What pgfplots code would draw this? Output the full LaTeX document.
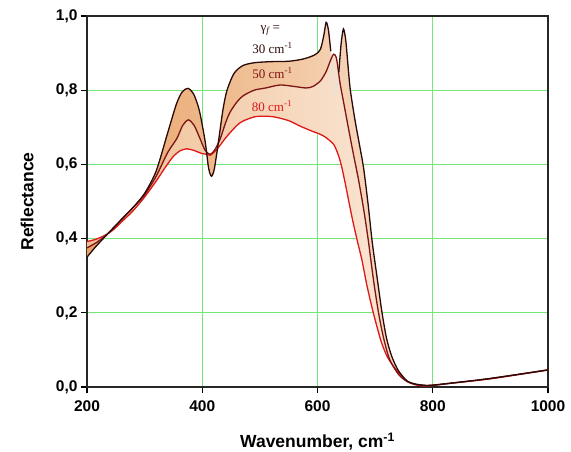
\documentclass[border=0pt]{standalone}
\usepackage{fontspec}
\setmainfont{Liberation Sans}
\newfontfamily\serif{Liberation Serif}
\usepackage{pgfplots}
\pgfplotsset{compat=1.18}
\usepgfplotslibrary{fillbetween}
\definecolor{gridg}{HTML}{74E874}
\definecolor{c30}{HTML}{2B0A08}
\definecolor{c50}{HTML}{7E1414}
\definecolor{c80}{HTML}{E01818}
\definecolor{fA1}{HTML}{E8A164}
\definecolor{fA2}{HTML}{F4D4BC}
\definecolor{fA3}{HTML}{FFF8F2}
\definecolor{fB1}{HTML}{EFBE92}
\definecolor{fB2}{HTML}{F8E4D6}
\definecolor{fB3}{HTML}{FFFAF6}
\pgfplotstableread{
x y
200 0.350
215 0.378
230 0.403
245 0.428
260 0.452
280 0.484
300 0.522
320 0.582
340 0.685
355 0.762
365 0.795
375 0.805
385 0.790
395 0.745
405 0.662
411 0.590
416 0.568
421 0.588
428 0.660
436 0.748
443 0.800
455 0.845
470 0.866
490 0.874
520 0.877
550 0.878
575 0.884
595 0.895
605 0.910
611 0.948
615 0.983
619 0.962
623 0.905
627 0.820
631 0.790
636 0.825
641 0.925
645 0.965
649 0.935
653 0.865
657 0.800
665 0.720
672 0.660
680 0.590
688 0.490
695 0.390
703 0.300
712 0.200
720 0.130
729 0.082
740 0.045
755 0.017
770 0.008
790 0.004
800 0.005
830 0.010
900 0.023
1000 0.046
}\tA
\pgfplotstableread{
x y
200 0.350
215 0.378
230 0.403
245 0.428
260 0.452
280 0.484
300 0.522
320 0.582
340 0.685
355 0.762
365 0.795
375 0.805
385 0.790
395 0.745
405 0.662
411 0.590
416 0.568
421 0.588
428 0.660
436 0.748
443 0.800
455 0.845
470 0.866
490 0.874
520 0.877
550 0.878
575 0.884
595 0.895
605 0.910
611 0.948
615 0.983
619 0.962
623 0.905
}\tAa
\pgfplotstableread{
x y
623 0.905
627 0.820
631 0.790
636 0.825
641 0.925
}\tAb
\pgfplotstableread{
x y
637 0.848
641 0.925
645 0.965
649 0.935
653 0.865
657 0.800
665 0.720
672 0.660
680 0.590
688 0.490
695 0.390
703 0.300
712 0.200
720 0.130
729 0.082
740 0.045
755 0.017
770 0.008
790 0.004
800 0.005
830 0.010
900 0.023
1000 0.046
}\tAc
\pgfplotstableread{
x y
200 0.375
215 0.388
230 0.405
245 0.426
260 0.452
280 0.484
300 0.518
320 0.568
340 0.632
356 0.670
366 0.705
376 0.720
386 0.705
396 0.670
405 0.638
414 0.627
422 0.640
431 0.668
440 0.710
448 0.740
460 0.768
471 0.785
490 0.800
510 0.806
535 0.814
560 0.810
580 0.806
592 0.810
605 0.825
615 0.850
622 0.878
628 0.897
633 0.885
639 0.820
645 0.770
654 0.695
662 0.630
671 0.560
680 0.480
688 0.397
697 0.290
706 0.199
715 0.130
725 0.075
740 0.035
755 0.015
770 0.007
790 0.004
800 0.005
830 0.010
900 0.023
1000 0.046
}\tB
\pgfplotstableread{
x y
200 0.392
215 0.398
230 0.408
245 0.423
260 0.445
280 0.475
300 0.512
320 0.555
335 0.590
350 0.622
362 0.637
373 0.642
385 0.638
398 0.630
408 0.627
414 0.625
425 0.640
443 0.676
460 0.705
471 0.717
490 0.728
506 0.730
525 0.728
550 0.718
570 0.703
590 0.690
605 0.681
615 0.672
628 0.654
635 0.630
641 0.600
648 0.550
655 0.495
662 0.442
670 0.388
677 0.343
686 0.272
697 0.199
710 0.125
720 0.085
729 0.062
740 0.040
755 0.016
770 0.006
785 0.003
800 0.004
830 0.010
900 0.022
1000 0.046
}\tC
\begin{document}
\begin{tikzpicture}
\begin{axis}[name=ax, width=461pt, height=371pt, scale only axis,
  xmin=200, xmax=1000, ymin=0, ymax=1,
  xtick={200,400,600,800,1000}, ytick={0,0.2,0.4,0.6,0.8,1},
  grid=major, major grid style={draw=gridg, line width=0.9pt},
  tick pos=left, tick align=outside, major tick length=6pt,
  tick style={black, line width=1.2pt},
  axis line style={line width=1.3pt, draw=black!85},
  ticklabel style={font=\bfseries\fontsize{15.5}{15.5}\selectfont},
  yticklabel style={/pgf/number format/.cd, fixed, fixed zerofill, precision=1, use comma, assume math mode=true},
  xticklabel style={/pgf/number format/.cd, fixed, precision=0, 1000 sep={}, assume math mode=true},
  xticklabel shift=4pt,
  xlabel={Wavenumber, cm\textsuperscript{-1}},
  ylabel={Reflectance},
  label style={font=\bfseries\fontsize{17.5}{18}\selectfont},
  xlabel style={at={(axis description cs:0.5,0)}, anchor=center, yshift=-55pt},
  ylabel style={at={(axis description cs:0,0.5)}, anchor=center, yshift=60pt},
]
\addplot[draw=none, name path=A, smooth, tension=0.45, forget plot] table {\tA};
\addplot[draw=none, name path=B, smooth, tension=0.45, forget plot] table {\tB};
\addplot[draw=none, name path=C, smooth, tension=0.45, forget plot] table {\tC};
\addplot[left color=fA1, middle color=fA2, right color=fA3, draw=none] fill between[of=A and B];
\addplot[left color=fB1, middle color=fB2, right color=fB3, draw=none] fill between[of=B and C];
\addplot[c30!12, line width=1.1pt, smooth, tension=0.45] table {\tAb};
\addplot[c80, line width=1.3pt, smooth, tension=0.45] table {\tC};
\addplot[c50, line width=1.3pt, smooth, tension=0.45] table {\tB};
\addplot[c30, line width=1.3pt, smooth, tension=0.45] table {\tAa};
\addplot[c30, line width=1.3pt, smooth, tension=0.45] table {\tAc};
\node[font=\serif\fontsize{13}{13}\selectfont, text=c30] at (axis cs:518,0.960) {γ\textsubscript{\itshape f} =};
\node[font=\serif\fontsize{13}{13}\selectfont, text=c30] at (axis cs:522,0.914) {30 cm\textsuperscript{-1}};
\node[font=\serif\fontsize{13}{13}\selectfont, text=c50] at (axis cs:522,0.846) {50 cm\textsuperscript{-1}};
\node[font=\serif\fontsize{13}{13}\selectfont, text=c80] at (axis cs:521,0.757) {80 cm\textsuperscript{-1}};
\end{axis}
\pgfresetboundingbox
\path (ax.south west) ++(-87pt,-64pt) rectangle ++(571pt,451pt);
\end{tikzpicture}
\end{document}
